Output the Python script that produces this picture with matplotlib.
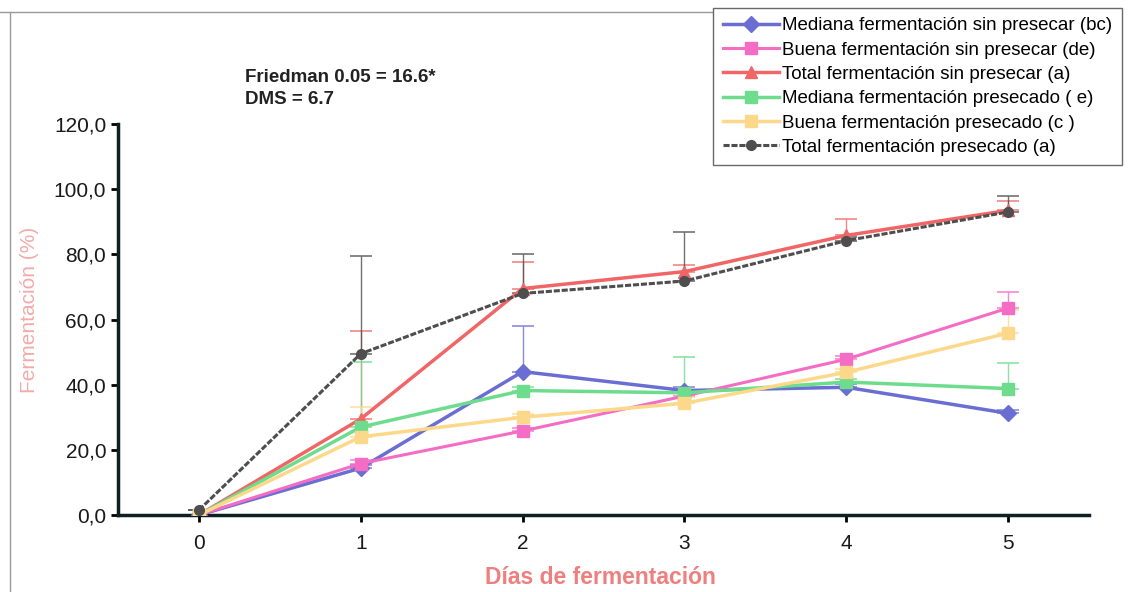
import matplotlib
matplotlib.use("Agg")
import matplotlib.pyplot as plt
from matplotlib.lines import Line2D

days = [0, 1, 2, 3, 4, 5]
labels = [
    "Mediana fermentación sin presecar (bc)",
    "Buena fermentación sin presecar (de)",
    "Total fermentación sin presecar (a)",
    "Mediana fermentación presecado ( e)",
    "Buena fermentación presecado (c )",
    "Total fermentación presecado (a)",
]
mediana_sin = [0.0, 14.4, 44.0, 38.2, 39.2, 31.2]
buena_sin = [0.0, 15.8, 25.8, 36.5, 47.8, 63.5]
total_sin = [0.0, 29.5, 69.5, 74.7, 85.8, 93.5]
mediana_pre = [0.0, 27.0, 38.2, 37.5, 40.8, 38.8]
buena_pre = [0.0, 24.0, 30.0, 34.3, 43.8, 55.8]
total_pre = [1.5, 49.5, 68.0, 71.8, 84.2, 93.0]

err_mediana_sin = [0, 1, 14, 1, 1, 1]
err_buena_sin = [0, 1, 1, 1, 1, 5]
err_total_sin = [0, 27, 8, 2, 5, 3]
err_mediana_pre = [0, 20, 1, 11, 1, 8]
err_buena_pre = [0, 9, 1, 2, 1, 7]
err_total_pre = [0, 30, 12, 15, 1, 5]

yticks = [0, 20, 40, 60, 80, 100, 120]
ytick_labels = ["0,0", "20,0", "40,0", "60,0", "80,0", "100,0", "120,0"]

plt.rcParams['font.family'] = ['Liberation Sans', 'DejaVu Sans']

fig = plt.figure(figsize=(11.34, 5.92), dpi=100)
ax = fig.add_axes([118/1134, 1-515/592, (1089-118)/1134, (515-124)/592])

series = [
    (mediana_sin, err_mediana_sin, "#6a6ed2", "D", 8, "-", 2.5),
    (buena_sin, err_buena_sin, "#f46cc4", "s", 8, "-", 2.2),
    (total_sin, err_total_sin, "#f06666", "^", 8, "-", 2.5),
    (mediana_pre, err_mediana_pre, "#6ddc8c", "s", 8, "-", 2.5),
    (buena_pre, err_buena_pre, "#fcd98a", "s", 8, "-", 2.5),
    (total_pre, err_total_pre, "#4e4e4e", "o", 7, (0, (2, 0.6)), 2.2),
]
handles = []
for (vals, err, c, m, ms, ls, lw), lab in zip(series, labels):
    lower = [0]*len(err)
    ax.errorbar(days, vals, yerr=[lower, err], fmt="none", ecolor=c,
                elinewidth=1, capsize=8, capthick=1.2, alpha=0.8, zorder=2)
    h, = ax.plot(days, vals, color=c, marker=m, markersize=ms, linestyle=ls,
                 linewidth=lw, label=lab, zorder=3)
    handles.append(h)

ax.set_xlim(-0.5, 5.5)
ax.set_ylim(0, 120)
ax.set_xticks(days)
ax.set_yticks(yticks)
ax.set_yticklabels(ytick_labels)
ax.tick_params(axis='both', labelsize=15, width=2, length=5, direction='out',
               labelcolor='#1a1a1a')
ax.tick_params(axis='x', pad=9)
ax.spines['top'].set_visible(False)
ax.spines['right'].set_visible(False)
ax.spines['left'].set_linewidth(2.5)
ax.spines['bottom'].set_linewidth(2.5)
ax.spines['left'].set_color('#102020')
ax.spines['bottom'].set_color('#102020')

fig.text(600/1134, 1-577/592, "Días de fermentación", color="#ee7f7f",
         fontsize=16.5, fontweight='bold', ha='center', va='center')
fig.text(30/1134, 1-310/592, "Fermentación (%)", rotation=90, color="#f2aaaa",
         fontsize=15, ha='center', va='center')

fig.text(245/1134, 1-77/592, "Friedman 0.05 = 16.6*", fontsize=13.5,
         fontweight='bold', ha='left', va='center', color='#222222')
fig.text(245/1134, 1-100/592, "DMS = 6.7", fontsize=13.5,
         fontweight='bold', ha='left', va='center', color='#222222')

leg = fig.legend(handles=handles, loc='upper right',
                 bbox_to_anchor=(1122/1134, 1-8/592), fontsize=13.5,
                 frameon=True, fancybox=False, edgecolor='#444444',
                 handlelength=3.0, handletextpad=0.2, labelspacing=0.38,
                 borderpad=0.5, borderaxespad=0)
leg.get_frame().set_linewidth(1)

fig.lines.append(Line2D([10/1134, 10/1134], [0, 1-12/592], transform=fig.transFigure,
                        color='#999999', linewidth=1))
fig.lines.append(Line2D([0, 712/1134], [1-12/592, 1-12/592], transform=fig.transFigure,
                        color='#999999', linewidth=1))

fig.savefig("out.png", dpi=100)
